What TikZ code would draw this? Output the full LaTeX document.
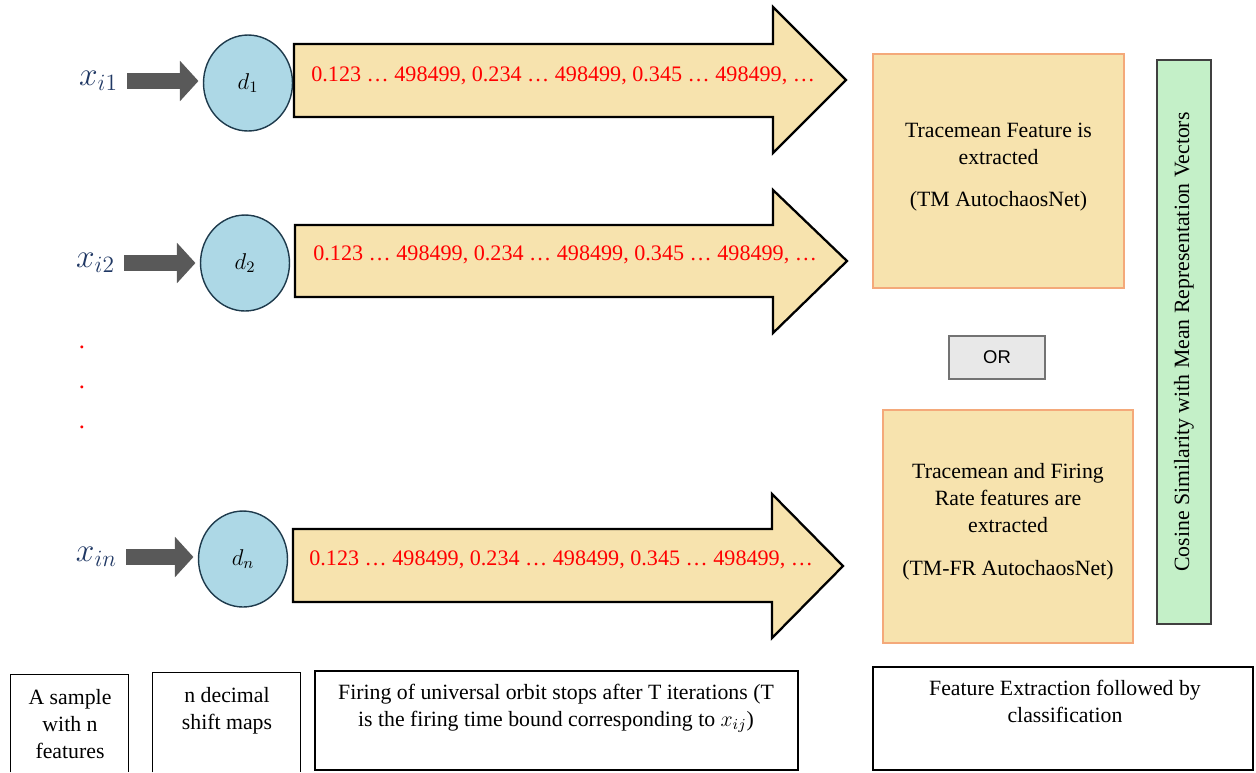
\documentclass[tikz,border=0pt]{standalone}
\usepackage{fix-cm}
\usepackage{fontspec}
\setmainfont{Liberation Serif}
\setsansfont{Liberation Sans}
\usetikzlibrary{arrows.meta,positioning,shapes.geometric}
\definecolor{wheat}{HTML}{F7E3AE}
\definecolor{peach}{HTML}{F4A97A}
\definecolor{skyfill}{HTML}{ADD8E6}
\definecolor{circedge}{HTML}{1E3A4C}
\definecolor{navy}{HTML}{203864}
\definecolor{mint}{HTML}{C4F0C8}
\definecolor{darkgrey}{HTML}{595959}
\tikzset{
	inlabel/.style={anchor=east,inner xsep=5pt,inner ysep=0pt,text=navy,font=\fontsize{19}{21}\selectfont},
	inarrow/.style={darkgrey,line width=9.6pt,shorten >=2.5pt,-{Triangle[length=10.5pt,width=23pt,line width=0pt]}},
	mapnode/.style={ellipse,draw=circedge,fill=skyfill,line width=0.8pt,minimum width=1.78cm,minimum height=1.92cm,inner sep=0pt,font=\fontsize{13}{14}\selectfont},
	bigarrow/.style={fill=wheat,draw=black,line width=1.3pt,line join=miter},
	orbit/.style={anchor=west,inner sep=0pt,text=red,font=\fontsize{12.6}{15}\selectfont},
	featbox/.style={rectangle,fill=wheat,draw=peach,line width=0.8pt,inner sep=0pt},
	boxtext/.style={anchor=north,align=center,inner sep=0pt,font=\fontsize{12.4}{15.3}\selectfont},
	orbox/.style={rectangle,fill=black!9,draw=black!55,line width=0.8pt,minimum width=1.92cm,minimum height=0.86cm,font=\sffamily\fontsize{10.5}{12}\selectfont},
	simbox/.style={rectangle,rotate=90,fill=mint,draw=black!75,line width=0.8pt,minimum width=11.28cm,minimum height=1.08cm,inner sep=0pt,font=\fontsize{12.4}{15.3}\selectfont},
	notebox/.style={rectangle,inner sep=0pt},
	noteline/.style={draw=black,line width=0.8pt},
	dotmark/.style={text=red,inner sep=0pt,font=\fontsize{14}{14}\selectfont}
}

\begin{document}
\begin{tikzpicture}[x=0.02cm,y=-0.02cm]
		\useasboundingbox (0,0) rectangle (1256,772);
		% inputs and decimal shift maps
		\node[inlabel] (xi1) at (127,81) {$x_{i1}$};
		\node[inlabel] (xi2) at (124,263) {$x_{i2}$};
		\node[inlabel] (xin) at (126,557) {$x_{in}$};
		\node[mapnode] (d1) at (248,83) {$d_1$};
		\node[mapnode] (d2) at (245,263) {$d_2$};
		\node[mapnode] (dn) at (243,559) {$d_n$};
		\draw[inarrow] (xi1.east) -- (xi1.east -| d1.west);
		\draw[inarrow] (xi2.east) -- (xi2.east -| d2.west);
		\draw[inarrow] (xin.east) -- (xin.east -| dn.west);
		\node[dotmark] (v1) at (82,347) {.};
		\node[dotmark] (v2) at (82,387) {.};
		\node[dotmark] (v3) at (82,427) {.};
		% firing of the orbit
		\draw[bigarrow] (294,44) -- (773,44) -- (773,7) -- (846,80) -- (773,153) -- (773,117) -- (294,117) -- cycle;
		\draw[bigarrow] (295,225) -- (773,225) -- (773,190) -- (847,261) -- (773,333) -- (773,297) -- (295,297) -- cycle;
		\draw[bigarrow] (293,529) -- (772,529) -- (772,494) -- (843,566) -- (772,638) -- (772,602) -- (293,602) -- cycle;
		\node[orbit] (o1) at (311,76) {0.123 … 498499, 0.234 … 498499, 0.345 … 498499, …};
		\node[orbit] (o2) at (313,255) {0.123 … 498499, 0.234 … 498499, 0.345 … 498499, …};
		\node[orbit] (on) at (309,560) {0.123 … 498499, 0.234 … 498499, 0.345 … 498499, …};
		% feature extraction
		\node[featbox,minimum width=5.02cm,minimum height=4.68cm] (tm) at (998.5,171) {};
		\node[boxtext] (tmtext) at (998.5,123) {Tracemean Feature is\\extracted\\[8.5pt](TM AutochaosNet)};
		\node[orbox] (or) at (997,357.5) {OR};
		\node[featbox,minimum width=5cm,minimum height=4.66cm] (tmfr) at (1008,526.5) {};
		\node[boxtext] (tmfrtext) at (1008,463) {Tracemean and Firing\\Rate features are\\extracted\\[9.5pt](TM-FR AutochaosNet)};
		\node[simbox] (cos) at (1184,342) {Cosine Similarity with Mean Representation Vectors};
		% captions
		\node[notebox,minimum width=2.34cm,minimum height=1.94cm] (smp) at (69.5,723.5) {};
		\draw[noteline] (smp.south west) -- (smp.north west) -- (smp.north east) -- (smp.south east);
		\node[boxtext] (smptext) at (70,689) {A sample\\with n\\features};
		\node[notebox,minimum width=2.94cm,minimum height=1.98cm] (dsm) at (226.5,722.5) {};
		\draw[noteline] (dsm.south west) -- (dsm.north west) -- (dsm.north east) -- (dsm.south east);
		\node[boxtext] (dsmtext) at (227,687) {n decimal\\shift maps};
		\node[notebox,noteline,minimum width=9.66cm,minimum height=1.98cm] (fir) at (556.5,720.5) {};
		\node[boxtext] (firtext) at (556,684) {Firing of universal orbit stops after T iterations (T\\is the firing time bound corresponding to $x_{ij}$)};
		\node[notebox,noteline,minimum width=7.6cm,minimum height=2.06cm] (cls) at (1063,718.5) {};
		\node[boxtext] (clstext) at (1065,680) {Feature Extraction followed by\\classification};
\end{tikzpicture}
\end{document}
